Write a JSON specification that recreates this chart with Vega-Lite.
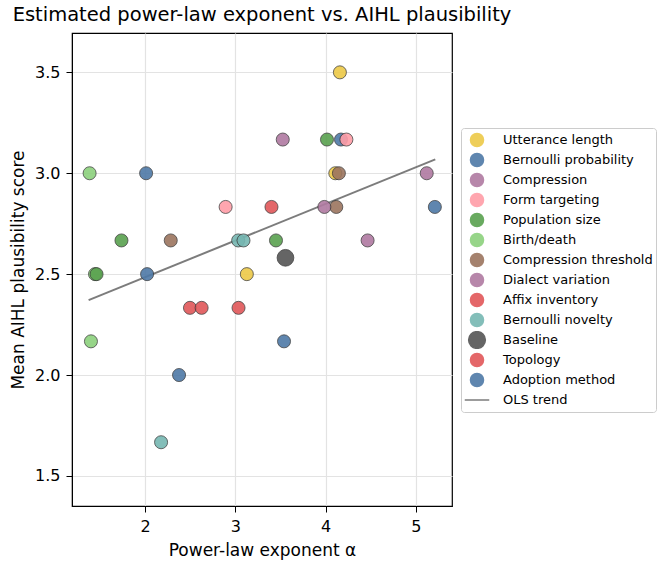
{
  "$schema": "https://vega.github.io/schema/vega-lite/v6.json",
  "width": 380,
  "height": 473,
  "autosize": "none",
  "padding": {"left": 72, "top": 33, "right": 214, "bottom": 62},
  "title": {"text": "Estimated power-law exponent vs. AIHL plausibility", "font": "DejaVu Sans", "fontSize": 19.5, "fontWeight": "normal", "color": "#000000", "anchor": "middle", "offset": 8},
  "config": {
    "font": "DejaVu Sans",
    "view": {"stroke": "#000000", "strokeWidth": 1.2},
    "axis": {"labelFont": "DejaVu Sans", "titleFont": "DejaVu Sans", "labelFontSize": 16, "titleFontSize": 17, "titleFontWeight": "normal", "labelColor": "#000000", "titleColor": "#000000", "domainColor": "#000000", "tickColor": "#000000", "tickSize": 6, "grid": true, "gridColor": "#e3e3e3", "gridWidth": 1.2, "labelPadding": 6},
    "legend": {"labelFont": "DejaVu Sans", "labelFontSize": 13, "labelColor": "#000000"}
  },
  "layer": [
    {
      "mark": {"type": "rect", "color": "#2ca02c", "opacity": 0.07},
      "encoding": {
        "x": {"datum": 2, "type": "quantitative", "scale": {"domain": [1.19, 5.4], "nice": false, "zero": false}, "axis": {"title": "Power-law exponent α", "values": [2, 3, 4, 5], "format": "d", "grid": true, "titlePadding": 8}},
        "x2": {"datum": 4}
      }
    },
    {
      "data": {"values": [
        {"group": "OLS trend", "alpha": 1.374, "score": 2.371},
        {"group": "OLS trend", "alpha": 5.215, "score": 3.069}
      ]},
      "mark": {"type": "line", "strokeWidth": 2, "opacity": 0.9},
      "encoding": {
        "x": {"field": "alpha", "type": "quantitative", "title": "Power-law exponent α"},
        "y": {"field": "score", "type": "quantitative", "title": "Mean AIHL plausibility score"},
        "color": {"field": "group", "type": "nominal"}
      }
    },
    {
      "data": {"values": [
        {"group": "Utterance length", "alpha": 4.158, "score": 3.5},
        {"group": "Utterance length", "alpha": 4.107, "score": 3.0},
        {"group": "Utterance length", "alpha": 3.127, "score": 2.5},
        {"group": "Bernoulli probability", "alpha": 4.17, "score": 3.167},
        {"group": "Bernoulli probability", "alpha": 2.011, "score": 3.0},
        {"group": "Bernoulli probability", "alpha": 5.21, "score": 2.833},
        {"group": "Compression", "alpha": 3.525, "score": 3.167},
        {"group": "Compression", "alpha": 5.12, "score": 3.0},
        {"group": "Form targeting", "alpha": 4.23, "score": 3.167},
        {"group": "Form targeting", "alpha": 2.892, "score": 2.833},
        {"group": "Population size", "alpha": 4.015, "score": 3.167},
        {"group": "Population size", "alpha": 1.738, "score": 2.667},
        {"group": "Population size", "alpha": 3.45, "score": 2.667},
        {"group": "Birth/death", "alpha": 1.385, "score": 3.0},
        {"group": "Birth/death", "alpha": 1.4, "score": 2.167},
        {"group": "Birth/death", "alpha": 1.445, "score": 2.5},
        {"group": "Population size", "alpha": 1.462, "score": 2.5},
        {"group": "Compression threshold", "alpha": 4.147, "score": 3.0},
        {"group": "Compression threshold", "alpha": 4.118, "score": 2.833},
        {"group": "Compression threshold", "alpha": 2.284, "score": 2.667},
        {"group": "Dialect variation", "alpha": 3.986, "score": 2.833},
        {"group": "Dialect variation", "alpha": 4.465, "score": 2.667},
        {"group": "Affix inventory", "alpha": 2.497, "score": 2.333},
        {"group": "Affix inventory", "alpha": 2.626, "score": 2.333},
        {"group": "Bernoulli novelty", "alpha": 3.031, "score": 2.667},
        {"group": "Bernoulli novelty", "alpha": 3.09, "score": 2.667},
        {"group": "Bernoulli novelty", "alpha": 2.177, "score": 1.667},
        {"group": "Baseline", "alpha": 3.555, "score": 2.581},
        {"group": "Topology", "alpha": 3.4, "score": 2.833},
        {"group": "Topology", "alpha": 3.035, "score": 2.333},
        {"group": "Adoption method", "alpha": 2.022, "score": 2.5},
        {"group": "Adoption method", "alpha": 2.376, "score": 2.0},
        {"group": "Adoption method", "alpha": 3.539, "score": 2.167}
      ]},
      "mark": {"type": "point", "filled": true, "stroke": "#333333", "strokeWidth": 0.8, "opacity": 0.9},
      "encoding": {
        "x": {"field": "alpha", "type": "quantitative", "title": "Power-law exponent α"},
        "y": {"field": "score", "type": "quantitative", "scale": {"domain": [1.351, 3.695], "nice": false, "zero": false}, "axis": {"title": "Mean AIHL plausibility score", "values": [1.5, 2.0, 2.5, 3.0, 3.5], "format": ".1f", "titlePadding": 7}},
        "size": {
          "field": "group", "type": "nominal",
          "scale": {
            "type": "ordinal",
            "domain": ["Utterance length", "Bernoulli probability", "Compression", "Form targeting", "Population size", "Birth/death", "Compression threshold", "Dialect variation", "Affix inventory", "Bernoulli novelty", "Baseline", "Topology", "Adoption method", "OLS trend"],
            "range": [170, 170, 170, 170, 170, 170, 170, 170, 170, 170, 280, 170, 170, 600]
          },
          "legend": {"title": null}
        },
        "shape": {
          "field": "group", "type": "nominal",
          "scale": {
            "domain": ["Utterance length", "Bernoulli probability", "Compression", "Form targeting", "Population size", "Birth/death", "Compression threshold", "Dialect variation", "Affix inventory", "Bernoulli novelty", "Baseline", "Topology", "Adoption method", "OLS trend"],
            "range": ["circle", "circle", "circle", "circle", "circle", "circle", "circle", "circle", "circle", "circle", "circle", "circle", "circle", "stroke"]
          },
          "legend": {"title": null}
        },
        "color": {
          "field": "group", "type": "nominal",
          "scale": {
            "domain": ["Utterance length", "Bernoulli probability", "Compression", "Form targeting", "Population size", "Birth/death", "Compression threshold", "Dialect variation", "Affix inventory", "Bernoulli novelty", "Baseline", "Topology", "Adoption method", "OLS trend"],
            "range": ["#edc948", "#4e79a7", "#b07aa1", "#ff9da7", "#59a14f", "#8cd17d", "#9c755f", "#b07aa1", "#e15759", "#76b7b2", "#555555", "#e15759", "#4e79a7", "#6e6e6e"]
          },
          "legend": {
            "title": null,
            "orient": "none",
            "legendX": 389,
            "legendY": 95,
            "strokeColor": "#cccccc",
            "fillColor": "#ffffff",
            "cornerRadius": 3,
            "padding": 3,
            "rowPadding": 2,
            "labelOffset": 13,
            "clipHeight": 18
          }
        }
      }
    }
  ]
}
